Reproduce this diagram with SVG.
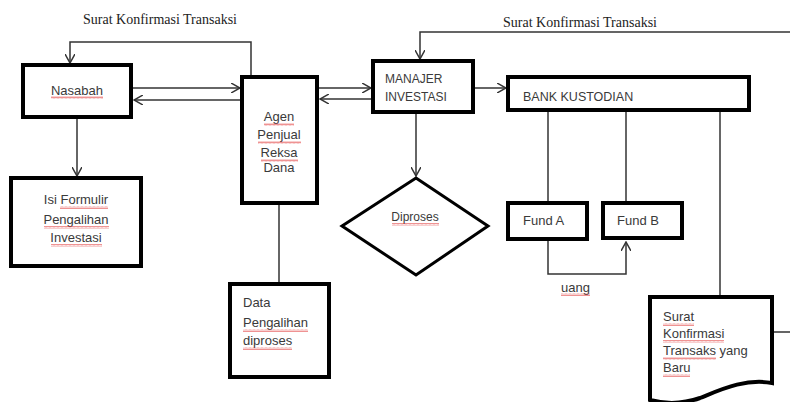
<svg xmlns="http://www.w3.org/2000/svg" width="790" height="402" viewBox="0 0 790 402">
<style>
.box{fill:#fff;stroke:#000;stroke-width:4}
.dia{fill:#fff;stroke:#000;stroke-width:3}
.con{fill:none;stroke:#333;stroke-width:1.5}
.t{font-family:"Liberation Sans",Arial,sans-serif;font-size:13px;fill:#3a3a3a}
.s{font-family:"Liberation Serif","Times New Roman",serif;font-size:14px;fill:#222}
.sq{fill:url(#squig);opacity:0.75}
</style>
<defs>
<marker id="arr" viewBox="0 0 10 10" refX="9" refY="5" markerWidth="10" markerHeight="10" markerUnits="userSpaceOnUse" orient="auto">
<path d="M0,0 L9,5 L0,10" fill="none" stroke="#333" stroke-width="1.5"/>
</marker>
<pattern id="squig" width="4" height="3" patternUnits="userSpaceOnUse">
<path d="M0,2.5 L1,0.5 L2,2.5 L3,0.5 L4,2.5" fill="none" stroke="#e03030" stroke-width="0.7"/>
</pattern>
</defs>
<rect width="790" height="402" fill="#fff"/>

<g id="connectors">
<path class="con" d="M251,77 V42 H70 V63" marker-end="url(#arr)"/>
<path class="con" d="M133,88 H240" marker-end="url(#arr)"/>
<path class="con" d="M242,100 H134" marker-end="url(#arr)"/>
<path class="con" d="M77,119 V176" marker-end="url(#arr)"/>
<path class="con" d="M279,205 V284"/>
<path class="con" d="M319,88 H371" marker-end="url(#arr)"/>
<path class="con" d="M373,99 H320" marker-end="url(#arr)"/>
<path class="con" d="M416,114 V176" marker-end="url(#arr)"/>
<path class="con" d="M475,88 H506" marker-end="url(#arr)"/>
<path class="con" d="M774,332 H800 V32 H420 V59" marker-end="url(#arr)"/>
<path class="con" d="M548,112 V203"/>
<path class="con" d="M626,112 V203"/>
<path class="con" d="M720,112 V297"/>
<path class="con" d="M548,241 V274 H626 V242" marker-end="url(#arr)"/>
<text class="s" x="83" y="24">Surat Konfirmasi Transaksi</text>
<text class="s" x="503" y="27">Surat Konfirmasi Transaksi</text>
<text class="t" x="561" y="292">uang</text>
</g>

<g id="nasabah">
<rect class="box" x="23" y="65" width="108" height="52"/>
<text class="t" x="77" y="95" text-anchor="middle">Nasabah</text>
</g>

<g id="isi-formulir">
<rect class="box" x="11" y="178" width="130" height="88"/>
<text class="t" x="76" y="204" text-anchor="middle">Isi Formulir</text>
<text class="t" x="76" y="224" text-anchor="middle">Pengalihan</text>
<text class="t" x="76" y="242" text-anchor="middle">Investasi</text>
</g>

<g id="agen">
<rect class="box" x="242" y="77" width="75" height="126"/>
<text class="t" x="279" y="121" text-anchor="middle">Agen</text>
<text class="t" x="279" y="139" text-anchor="middle">Penjual</text>
<text class="t" x="279" y="157" text-anchor="middle">Reksa</text>
<text class="t" x="279" y="172" text-anchor="middle">Dana</text>
</g>

<g id="data">
<rect class="box" x="230" y="284" width="99" height="93"/>
<text class="t" x="243" y="307">Data</text>
<text class="t" x="243" y="327">Pengalihan</text>
<text class="t" x="243" y="345">diproses</text>
</g>

<g id="manajer">
<rect class="box" x="373" y="61" width="100" height="51"/>
<text class="t" x="385" y="83" style="font-size:12px">MANAJER</text>
<text class="t" x="385" y="101" style="font-size:12px">INVESTASI</text>
</g>

<g id="diproses">
<polygon class="dia" points="416,178 488,226 416,275 342,226"/>
<text class="t" x="415" y="221" text-anchor="middle" style="font-size:12px">Diproses</text>
</g>

<g id="bank">
<rect class="box" x="508" y="77" width="241" height="33"/>
<text class="t" x="523" y="101" style="font-size:12.5px">BANK KUSTODIAN</text>
</g>

<g id="fund-a">
<rect class="box" x="508" y="203" width="79" height="36"/>
<text class="t" x="523" y="225">Fund A</text>
</g>

<g id="fund-b">
<rect class="box" x="603" y="203" width="79" height="35"/>
<text class="t" x="617" y="225">Fund B</text>
</g>

<g id="surat-baru">
<path class="box" d="M650,297 H772 V383 C745,378 720,390 700,398 C680,405 665,404 650,400 Z"/>
<text class="t" x="663" y="321">Surat</text>
<text class="t" x="663" y="338">Konfirmasi</text>
<text class="t" x="663" y="355">Transaks yang</text>
<text class="t" x="663" y="372">Baru</text>
</g>

<g id="spellcheck-marks">
<rect class="sq" x="51" y="96" width="52" height="3"/>
<rect class="sq" x="60" y="206" width="48" height="3"/>
<rect class="sq" x="44" y="226" width="65" height="3"/>
<rect class="sq" x="51" y="244" width="51" height="3"/>
<rect class="sq" x="264" y="123" width="30" height="3"/>
<rect class="sq" x="258" y="141" width="43" height="3"/>
<rect class="sq" x="261" y="159" width="37" height="3"/>
<rect class="sq" x="392" y="223" width="47" height="3"/>
<rect class="sq" x="243" y="329" width="65" height="3"/>
<rect class="sq" x="243" y="347" width="49" height="3"/>
<rect class="sq" x="561" y="293" width="29" height="3"/>
<rect class="sq" x="663" y="323" width="31" height="3"/>
<rect class="sq" x="663" y="340" width="61" height="3"/>
<rect class="sq" x="663" y="357" width="53" height="3"/>
<rect class="sq" x="663" y="374" width="27" height="3"/>
</g>
</svg>
